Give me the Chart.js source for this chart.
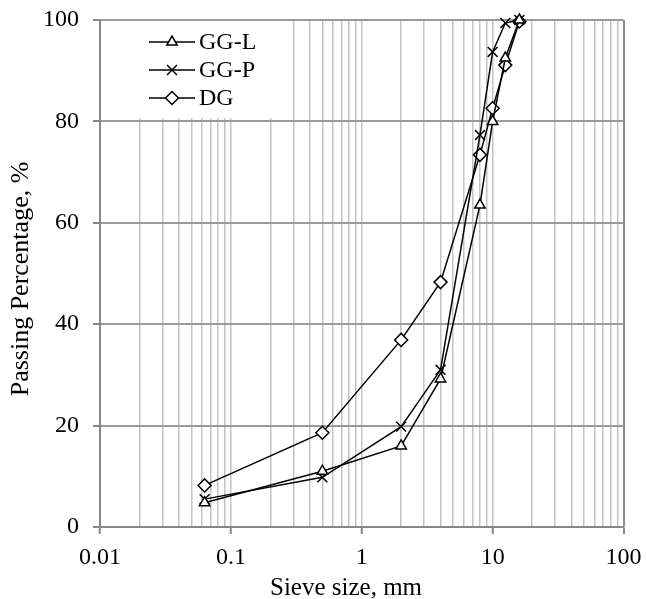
<!DOCTYPE html>
<html><head><meta charset="utf-8">
<script src="https://cdn.jsdelivr.net/npm/chart.js@4/dist/chart.umd.min.js"></script>
<style>html,body{margin:0;padding:0;background:#fff}#wrap{width:646px;height:599px;position:relative}</style>
</head><body><div id="wrap"><canvas id="c"></canvas></div>
<script>
// Sieve sizes (mm)
const sieveSizes = [0.063, 0.5, 2, 4, 8, 10, 12.5, 16];
// Passing percentage per series
const ggL = [4.8, 11.0, 16.0, 29.2, 63.5, 80.0, 92.5, 100];
const ggP = [5.5, 9.8, 19.8, 31.0, 77.3, 93.7, 99.4, 100];
const dg  = [8.2, 18.6, 36.9, 48.3, 73.4, 82.6, 91.1, 99.7];
const seriesNames = ['GG-L', 'GG-P', 'DG'];
const xTickLabels = ['0.01', '0.1', '1', '10', '100'];
const yTicks = [0, 20, 40, 60, 80, 100];
const xTitle = 'Sieve size, mm';
const yTitle = 'Passing Percentage, %';

const FONT = "'Liberation Serif', 'Times New Roman', serif";
const styles = ['triangle', 'crossRot', 'rectRot'];
const radii = [6, 7, 6.5];

function pts(v){ return sieveSizes.map((s,i)=>({x:s, y:v[i]})); }
const allSeries = [ggL, ggP, dg];

const datasets = allSeries.map((v,i)=>({
  label: seriesNames[i],
  data: pts(v),
  borderColor: '#000',
  borderWidth: 1.5,
  backgroundColor: '#fff',
  pointStyle: styles[i],
  pointRadius: radii[i],
  pointBorderWidth: 1.5,
  pointBorderColor: '#000',
  pointBackgroundColor: '#fff',
  tension: 0,
  fill: false,
  clip: false
}));

// log ticks at 1..9 x 10^n
const xTickVals = [];
for (let e = -2; e <= 1; e++) {
  for (let m = 1; m <= 9; m++) xTickVals.push(Number((m*Math.pow(10,e)).toPrecision(3)));
}
xTickVals.push(100);
const decadeVals = [0.01, 0.1, 1, 10, 100];
const isDecade = v => decadeVals.some(d => Math.abs(d - v) < 1e-9);

const legendPlugin = {
  id: 'excelLegend',
  beforeDatasetsDraw(chart) {
    const ctx = chart.ctx;
    const a = chart.chartArea;
    ctx.save();
    ctx.fillStyle = '#fff';
    ctx.fillRect(a.left + 1, a.top + 1, 184, 118 - a.top - 1);
    const rowY = [42, 70, 98];
    for (let i = 0; i < 3; i++) {
      const y = rowY[i];
      ctx.strokeStyle = '#000';
      ctx.lineWidth = 1.5;
      ctx.beginPath(); ctx.moveTo(149, y); ctx.lineTo(195, y); ctx.stroke();
      ctx.fillStyle = '#fff';
      Chart.helpers.drawPoint(ctx, {pointStyle: styles[i], radius: radii[i], borderWidth: 1.5}, 172, y);
      ctx.fillStyle = '#000';
      ctx.font = '24px ' + FONT;
      ctx.textBaseline = 'middle';
      ctx.textAlign = 'left';
      ctx.fillText(seriesNames[i], 199, y + 1);
    }
    ctx.restore();
  },
  afterDraw(chart) {
    const ctx = chart.ctx;
    ctx.save();
    ctx.fillStyle = '#000';
    ctx.font = '25px ' + FONT;
    ctx.textAlign = 'center';
    ctx.textBaseline = 'alphabetic';
    ctx.fillText(xTitle, 346, 595);
    ctx.translate(21, 279);
    ctx.rotate(-Math.PI / 2);
    ctx.font = '26px ' + FONT;
    ctx.textBaseline = 'middle';
    ctx.fillText(yTitle, 0, 0);
    ctx.restore();
  }
};

new Chart(document.getElementById('c'), {
  type: 'line',
  data: { datasets },
  plugins: [legendPlugin],
  options: {
    responsive: true,
    maintainAspectRatio: false,
    animation: false,
    devicePixelRatio: 1,
    layout: { padding: { left: 0, right: 22.5, top: 20, bottom: 0 } },
    plugins: { legend: { display: false }, tooltip: { enabled: false } },
    scales: {
      x: {
        type: 'logarithmic',
        min: 0.01, max: 100,
        afterFit(s){ s.height = 72; s.paddingLeft = 0; s.paddingRight = 0; },
        afterBuildTicks(s){ s.ticks = xTickVals.map(v => ({value: v})); },
        border: { color: '#868686', width: 2 },
        grid: {
          color: c => (c.tick && Math.abs(c.tick.value - 100) < 1e-9) ? '#8c8c8c' : '#c3c3c3',
          lineWidth: c => (c.tick && Math.abs(c.tick.value - 100) < 1e-9) ? 2 : 1.5,
          tickLength: 7,
          tickColor: c => (c.tick && isDecade(c.tick.value)) ? '#868686' : 'rgba(0,0,0,0)',
          tickWidth: 2
        },
        ticks: {
          autoSkip: false, maxRotation: 0, padding: 9,
          color: '#000',
          font: { family: FONT, size: 24 },
          callback(v){ const i = decadeVals.findIndex(d => Math.abs(d - v) < 1e-9); return i >= 0 ? xTickLabels[i] : ''; }
        },
        title: { display: false }
      },
      y: {
        min: 0, max: 100,
        afterFit(s){ s.width = 100; s.paddingTop = 0; s.paddingBottom = 0; },
        afterBuildTicks(s){ s.ticks = yTicks.map(v => ({value: v})); },
        border: { color: '#868686', width: 2 },
        grid: { color: '#9a9a9a', lineWidth: 2, tickLength: 7, tickColor: '#868686', tickWidth: 2 },
        ticks: { padding: 14, color: '#000', font: { family: FONT, size: 24 } },
        title: { display: false }
      }
    }
  }
});
</script>
</body></html>
